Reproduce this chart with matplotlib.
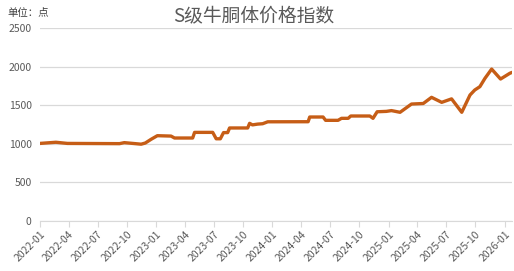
import pandas as pd
import matplotlib as mpl
mpl.use('Agg')
import matplotlib.pyplot as plt

plt.rcParams['font.family'] = ['Noto Sans CJK SC', 'DejaVu Sans']

# index readings (approximate)
dates = ['2022-01-01', '2022-02-20', '2022-03-28', '2022-09-08', '2022-09-23',
         '2022-10-25', '2022-11-15', '2022-11-28', '2022-12-17', '2023-01-05',
         '2023-02-17', '2023-02-28', '2023-04-26', '2023-05-02', '2023-06-28',
         '2023-07-09', '2023-07-22', '2023-08-01', '2023-08-14', '2023-08-20',
         '2023-10-16', '2023-10-22', '2023-10-31', '2023-11-16', '2023-12-02',
         '2023-12-18', '2024-04-23', '2024-04-28', '2024-06-09', '2024-06-17',
         '2024-07-26', '2024-08-06', '2024-08-27', '2024-09-04', '2024-11-03',
         '2024-11-13', '2024-11-26', '2024-12-25', '2025-01-10', '2025-02-06',
         '2025-03-14', '2025-04-20', '2025-05-16', '2025-06-17', '2025-07-18',
         '2025-08-19', '2025-09-14', '2025-09-29', '2025-10-15', '2025-10-31',
         '2025-11-21', '2025-12-19', '2026-01-17', '2026-01-24']
values = [1005, 1020, 1005, 1002, 1015,
          1003, 995, 1010, 1060, 1105,
          1100, 1075, 1075, 1148, 1148,
          1065, 1065, 1145, 1145, 1205,
          1205, 1265, 1245, 1255, 1260,
          1285, 1286, 1347, 1347, 1304,
          1304, 1330, 1330, 1360, 1360,
          1330, 1415, 1420, 1430, 1408,
          1515, 1522, 1602, 1537, 1582,
          1408, 1632, 1697, 1740, 1848,
          1968, 1839, 1913, 1925]

tick_labels = ['2022-01', '2022-04', '2022-07', '2022-10', '2023-01', '2023-04',
               '2023-07', '2023-10', '2024-01', '2024-04', '2024-07', '2024-10',
               '2025-01', '2025-04', '2025-07', '2025-10', '2026-01']

x = pd.to_datetime(dates)
ticks = pd.to_datetime([t + '-01' for t in tick_labels])

fig = plt.figure(figsize=(5.14, 2.71), dpi=100)
ax = fig.add_axes([40 / 514, 50 / 271, 472 / 514, 193 / 271])

ax.plot(x, values, color='#C65D16', lw=2.4, solid_joinstyle='round', solid_capstyle='round')

ax.set_ylim(0, 2500)
ax.set_yticks(range(0, 2501, 500))
ax.set_xlim(pd.Timestamp('2022-01-01'), pd.Timestamp('2026-01-24'))
ax.set_xticks(ticks)
ax.set_xticklabels(tick_labels, rotation=45, ha='right', rotation_mode='anchor')

ax.grid(axis='y', color='#D9D9D9', lw=0.9)
ax.set_axisbelow(True)
for s in ['left', 'right', 'top']:
    ax.spines[s].set_visible(False)
ax.spines['bottom'].set_color('#D9D9D9')
ax.tick_params(axis='y', length=0, pad=6, labelsize=7.5, labelcolor='#595959')
ax.tick_params(axis='x', length=4, color='#D9D9D9', direction='out', pad=2,
               labelsize=7.5, labelcolor='#595959')

fig.text(254 / 514, 1 - 16 / 271, 'S级牛胴体价格指数', ha='center', va='center',
         fontsize=13.5, color='#595959')
fig.text(7 / 514, 1 - 13 / 271, '单位：点', ha='left', va='center',
         fontsize=7.5, color='#404040')

fig.savefig('out.png', dpi=100)
